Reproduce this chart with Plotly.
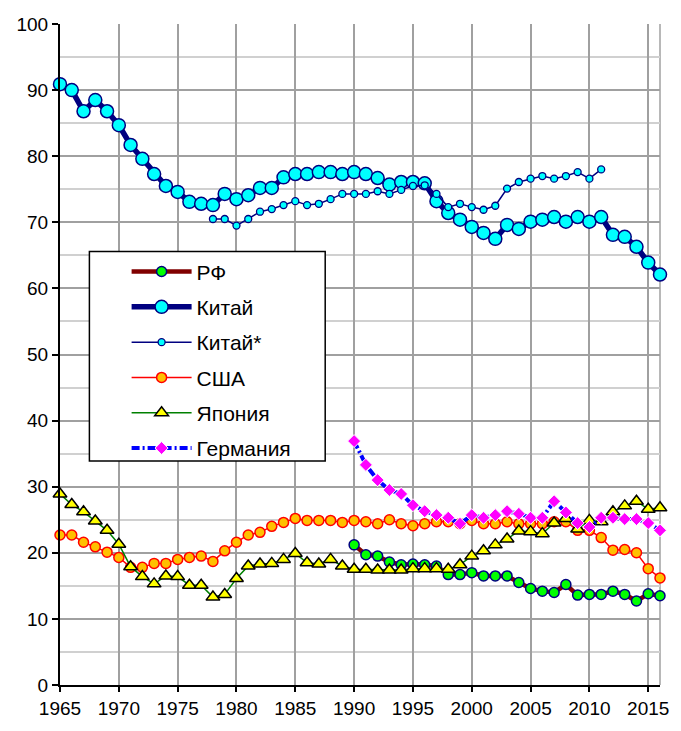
import plotly.graph_objects as go

# ---- data -------------------------------------------------------------
years = list(range(1965, 2017))
years_cn_star = list(range(1978, 2012))
years_9016 = list(range(1990, 2017))

rf = [21.2, 19.7, 19.5, 18.6, 18.2, 18.3, 18.2, 18.0, 16.7, 16.7, 17.0, 16.5,
      16.5, 16.5, 15.5, 14.6, 14.2, 14.0, 15.2, 13.6, 13.7, 13.7, 14.2, 13.7,
      12.7, 13.8, 13.5]

china = [90.9, 90.0, 86.8, 88.5, 86.8, 84.7, 81.7, 79.6, 77.3, 75.5, 74.6, 73.1,
         72.8, 72.6, 74.3, 73.5, 74.1, 75.2, 75.2, 76.8, 77.3, 77.3, 77.6, 77.6,
         77.3, 77.6, 77.3, 76.7, 75.7, 76.1, 76.1, 75.9, 73.2, 71.4, 70.4, 69.3,
         68.4, 67.5, 69.6, 69.0, 70.1, 70.4, 70.8, 70.1, 70.8, 70.1, 70.8, 68.1,
         67.8, 66.3, 63.9, 62.1]

china_star = [70.5, 70.5, 69.5, 70.5, 71.6, 72.0, 72.6, 73.2, 72.6, 72.8, 73.5,
              74.3, 74.3, 74.3, 74.7, 74.3, 74.9, 75.5, 75.6, 74.3, 72.3, 72.8,
              72.3, 71.9, 72.5, 75.1, 76.1, 76.6, 77.0, 76.6, 77.0, 77.6, 76.6,
              78.0]

usa = [22.7, 22.7, 21.6, 20.9, 20.1, 19.3, 17.8, 17.8, 18.4, 18.4, 19.0, 19.3,
       19.5, 18.7, 20.3, 21.6, 22.7, 23.1, 24.0, 24.6, 25.2, 24.9, 24.9, 24.9,
       24.6, 24.9, 24.7, 24.4, 25.0, 24.4, 24.1, 24.4, 24.7, 24.7, 24.4, 24.9,
       24.4, 24.4, 24.7, 24.4, 24.4, 24.4, 24.7, 24.7, 23.4, 23.4, 22.3, 20.4,
       20.5, 20.0, 17.6, 16.2]

japan = [28.9, 27.3, 26.2, 24.8, 23.4, 21.3, 17.9, 16.4, 15.3, 16.5, 16.4, 15.1,
         15.1, 13.3, 13.7, 16.1, 18.0, 18.3, 18.4, 19.0, 19.9, 18.5, 18.3, 19.0,
         18.0, 17.5, 17.5, 17.4, 17.4, 17.4, 17.6, 17.6, 17.6, 17.5, 18.2, 19.5,
         20.3, 21.2, 22.1, 23.3, 23.2, 22.9, 24.5, 25.2, 23.6, 24.9, 24.7, 26.2,
         27.1, 27.8, 26.6, 26.8]

germany = [36.9, 33.3, 31.0, 29.5, 28.9, 27.2, 26.3, 25.7, 25.3, 24.4, 25.7,
           25.3, 25.7, 26.3, 25.9, 25.3, 25.3, 27.8, 26.1, 24.5, 23.9, 25.3,
           25.3, 25.1, 25.1, 24.5, 23.4]

x_ticks = list(range(1965, 2016, 5))
y_ticks = list(range(0, 101, 10))

# ---- figure -----------------------------------------------------------
fig = go.Figure()

def add(name, x, y, line, marker):
    fig.add_trace(go.Scatter(
        x=x, y=y, name=name, mode="lines+markers",
        line=line, marker=marker, cliponaxis=False,
        legendgroup=name,
    ))

add("РФ", years_9016, rf,
    dict(color="#800000", width=4.5),
    dict(symbol="circle", size=10, color="#00ff00",
         line=dict(color="#000080", width=1.5)))
add("Китай", years, china,
    dict(color="#000080", width=5.5),
    dict(symbol="circle", size=13, color="#00ffff",
         line=dict(color="#000080", width=1.5)))
add("Китай*", years_cn_star, china_star,
    dict(color="#000080", width=1.5),
    dict(symbol="circle", size=7, color="#00ffff",
         line=dict(color="#000080", width=1.3)))
add("США", years, usa,
    dict(color="#ff0000", width=1.5),
    dict(symbol="circle", size=10, color="#ffc000",
         line=dict(color="#ff0000", width=1.5)))
add("Япония", years, japan,
    dict(color="#008000", width=1.5),
    dict(symbol="triangle-up", size=12, color="#ffff00",
         line=dict(color="#000000", width=1.5)))
add("Германия", years_9016, germany,
    dict(color="#0000ff", width=4, dash="8px,3px,2px,3px"),
    dict(symbol="diamond", size=10, color="#ff00ff",
         line=dict(color="#ffffff", width=1)))

fig.update_layout(
    width=681, height=731,
    margin=dict(l=60, r=13, t=24, b=35),
    paper_bgcolor="white", plot_bgcolor="white",
    font=dict(family="Arial, 'Liberation Sans', sans-serif", size=19, color="black"),
    showlegend=True,
    xaxis=dict(
        range=[1965, 2016], tickmode="array", tickvals=x_ticks,
        ticktext=[str(v) for v in x_ticks],
        ticks="outside", ticklen=5, tickwidth=1.5, tickcolor="black",
        showline=True, linecolor="black", linewidth=2,
        showgrid=True, gridcolor="#a0a0a0", gridwidth=1.5, zeroline=False,
    ),
    yaxis=dict(
        range=[0, 100], tickmode="array", tickvals=y_ticks,
        ticks="outside", ticklen=6, tickwidth=1.5, tickcolor="black",
        showline=True, linecolor="black", linewidth=2,
        showgrid=True, gridcolor="#a0a0a0", gridwidth=1.5, zeroline=False,
        minor=dict(dtick=5, tick0=0, showgrid=True, gridcolor="#d0d0d0",
                   gridwidth=1.5, ticks=""),
    ),
    legend=dict(
        x=0.111, y=0.656, xanchor="left", yanchor="top",
        bgcolor="rgba(0,0,0,0)", borderwidth=0,
        itemwidth=60, tracegroupgap=5,
        font=dict(size=21),
    ),
    shapes=[
        # legend frame
        dict(type="rect", xref="paper", yref="paper",
             x0=0.049, x1=0.442, y0=0.339, y1=0.656,
             fillcolor="white", line=dict(color="black", width=1.5),
             layer="above"),
        # right edge of plotting area
        dict(type="line", xref="paper", yref="paper",
             x0=1, x1=1, y0=0, y1=1,
             line=dict(color="#a0a0a0", width=1.5), layer="below"),
    ],
)

fig.write_html("out.html")
